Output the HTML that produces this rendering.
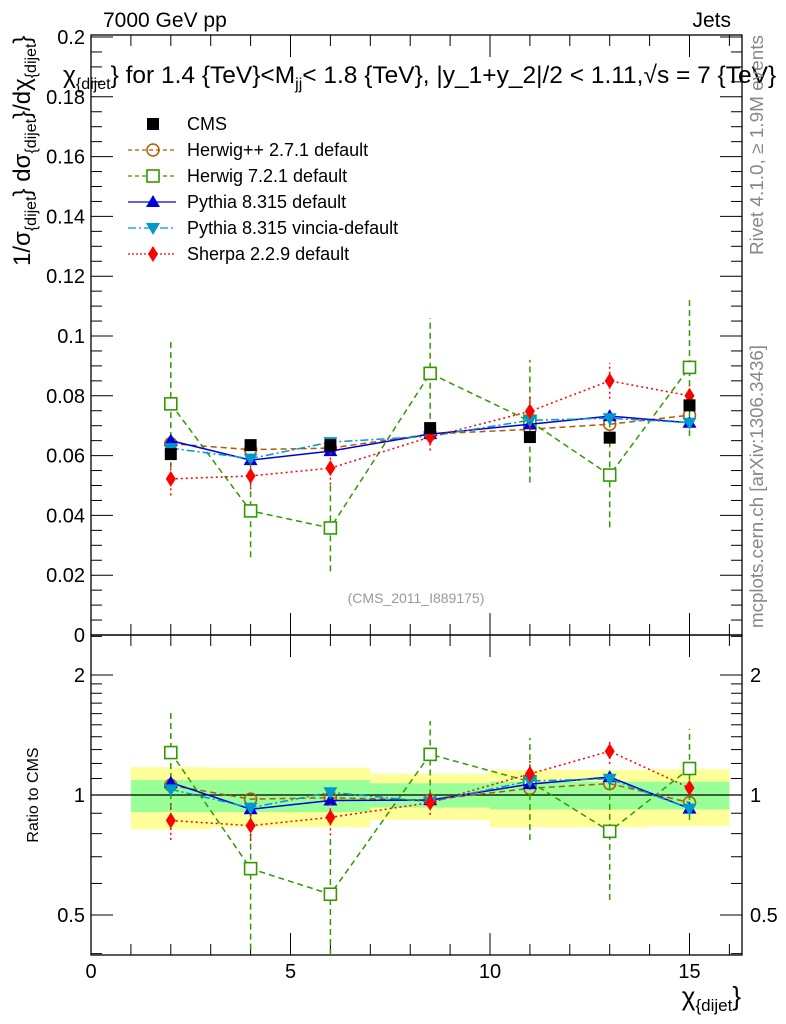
<!DOCTYPE html>
<html><head><meta charset="utf-8">
<style>
body{margin:0;background:#fff;}
svg{display:block;font-family:"Liberation Sans",sans-serif;}
</style></head>
<body>
<svg id="c" width="786" height="1024" viewBox="0 0 786 1024">
<text x="103" y="27" font-size="21">7000 GeV pp</text>
<text x="731" y="27" font-size="21" text-anchor="end">Jets</text>
<text x="63" y="83" font-size="24.5">χ<tspan font-size="16" dy="6">{dijet</tspan><tspan dy="-6" font-size="24.5">} for 1.4 {TeV}&lt;M</tspan><tspan font-size="16" dy="6">jj</tspan><tspan dy="-6" font-size="24.5">&lt; 1.8 {TeV}, |y_1+y_2|/2 &lt; 1.11,√s = 7 {TeV}</tspan></text>
<text transform="translate(30,266) rotate(-90)" font-size="24">1/σ<tspan font-size="16" dy="6">{dijet</tspan><tspan dy="-6">} dσ</tspan><tspan font-size="16" dy="6">{dijet</tspan><tspan dy="-6">}/dχ</tspan><tspan font-size="16" dy="6">{dijet</tspan><tspan dy="-6">}</tspan></text>
<text transform="translate(763,255) rotate(-90)" font-size="18" textLength="220" lengthAdjust="spacingAndGlyphs" fill="#888">Rivet 4.1.0, ≥ 1.9M events</text>
<text transform="translate(763,628) rotate(-90)" font-size="18" textLength="283" lengthAdjust="spacingAndGlyphs" fill="#888">mcplots.cern.ch [arXiv:1306.3436]</text>
<text x="416" y="603" font-size="14" fill="#999" text-anchor="middle">(CMS_2011_I889175)</text>
<text transform="translate(38,795) rotate(-90)" font-size="16" text-anchor="middle">Ratio to CMS</text>
<text x="741" y="1005" font-size="26" text-anchor="end">χ<tspan font-size="17" dy="6">{dijet</tspan><tspan dy="-6">}</tspan></text>
</svg>
<script>
const xs=[2,4,6,8.5,11,13,15];
const cms=[0.0605,0.0635,0.0635,0.0692,0.0662,0.0660,0.0768];
const herwigpp=[0.0640,0.0620,0.0625,0.0672,0.0688,0.0705,0.0735];
const herwig7=[0.0773,0.0415,0.0358,0.0875,0.0715,0.0535,0.0895];
const herwig7Err=[0.0215,0.0155,0.0145,0.0185,0.0205,0.0175,0.0230];
const pythia=[0.0650,0.0585,0.0615,0.0672,0.0705,0.0732,0.0710];
const vincia=[0.0625,0.0590,0.0645,0.0665,0.0718,0.0725,0.0710];
const sherpa=[0.0522,0.0532,0.0558,0.0662,0.0748,0.0850,0.0800];
const sherpaErr=[0.0055,0.0045,0.0055,0.0045,0.0058,0.0060,0.0035];
const bandEdges=[1,3,7,10,14,16];
const bandYellowLo=[0.82,0.83,0.866,0.83,0.836];
const bandYellowHi=[1.175,1.17,1.13,1.155,1.16];
const bandGreenLo=[0.906,0.906,0.93,0.92,0.92];
const bandGreenHi=[1.09,1.09,1.07,1.08,1.08];
const mainTicks=[0,0.02,0.04,0.06,0.08,0.1,0.12,0.14,0.16,0.18,0.2];
const mainTickLabels=["0","0.02","0.04","0.06","0.08","0.1","0.12","0.14","0.16","0.18","0.2"];
const xTicks=[0,5,10,15];
const ratioTicks=[0.5,1,2];

const svg=document.getElementById('c');
const NS='http://www.w3.org/2000/svg';
const L=91,R=742,MT=35,MB=635,RT=635,RB=955;
const X=v=>L+v*39.9;
const Y=v=>MB-v*2990;
const RY=v=>795-Math.log2(v)*120;
function mk(tag,attrs,parent){const e=document.createElementNS(NS,tag);for(const k in attrs)e.setAttribute(k,attrs[k]);(parent||svg).appendChild(e);return e;}

const bands=mk('g',{});


for(let i=0;i<bandEdges.length-1;i++){
  mk('rect',{x:X(bandEdges[i]),y:RY(bandYellowHi[i]),width:X(bandEdges[i+1])-X(bandEdges[i]),height:RY(bandYellowLo[i])-RY(bandYellowHi[i]),fill:'#ffff99'},bands);
  mk('rect',{x:X(bandEdges[i]),y:RY(bandGreenHi[i]),width:X(bandEdges[i+1])-X(bandEdges[i]),height:RY(bandGreenLo[i])-RY(bandGreenHi[i]),fill:'#99ff99'},bands);
}
mk('line',{x1:L,x2:R,y1:RY(1),y2:RY(1),stroke:'#000','stroke-width':1.2});

const f1=mk('rect',{x:L,y:MT,width:R-L,height:MB-MT,fill:'none',stroke:'#000','stroke-width':1.3});


const f2=mk('rect',{x:L,y:RT,width:R-L,height:RB-RT,fill:'none',stroke:'#000','stroke-width':1.3});



for(let v=0;v<=0.2001;v+=0.005){
  const major=Math.abs(v/0.02-Math.round(v/0.02))<1e-6;
  const len=major?22:11,y=Y(v);
  mk('line',{x1:L,x2:L+len,y1:y,y2:y,stroke:'#000'});
  mk('line',{x1:R,x2:R-len,y1:y,y2:y,stroke:'#000'});
}
mainTicks.forEach((v,i)=>{
  const t=mk('text',{x:L-6,y:Y(v)+7,'font-size':20,'text-anchor':'end'});
  t.textContent=mainTickLabels[i];
  
  
});
for(let v=0;v<=16;v++){
  const major=v%5===0,len=major?22:11,x=X(v);
  mk('line',{x1:x,x2:x,y1:MT,y2:MT+len,stroke:'#000'});
  mk('line',{x1:x,x2:x,y1:MB,y2:MB-len,stroke:'#000'});
  mk('line',{x1:x,x2:x,y1:RT,y2:RT+len,stroke:'#000'});
  mk('line',{x1:x,x2:x,y1:RB,y2:RB-len,stroke:'#000'});
}
xTicks.forEach(v=>{
  const t=mk('text',{x:X(v),y:978,'font-size':20,'text-anchor':'middle'});
  t.textContent=String(v);
  
  
});
[0.4,0.5,0.6,0.7,0.8,0.9,1,1.1,1.2,1.3,1.4,1.5,1.6,1.7,1.8,1.9,2,2.5].forEach(v=>{
  const y=RY(v);if(y<RT||y>RB)return;
  const major=ratioTicks.includes(v),len=major?22:11;
  mk('line',{x1:L,x2:L+len,y1:y,y2:y,stroke:'#000'});
  mk('line',{x1:R,x2:R-len,y1:y,y2:y,stroke:'#000'});
});
ratioTicks.forEach(v=>{
  const t=mk('text',{x:L-6,y:RY(v)+7,'font-size':20,'text-anchor':'end'});
  t.textContent=String(v);
  
  
  const t2=mk('text',{x:R+8,y:RY(v)+7,'font-size':20});
  t2.textContent=String(v);
  
  
});

function marker(g,type,x,y,color){
  if(type==='sq') mk('rect',{x:x-6,y:y-6,width:12,height:12,fill:'#000'},g);
  if(type==='circ') mk('circle',{cx:x,cy:y,r:6,fill:'none',stroke:color,'stroke-width':1.5},g);
  if(type==='osq') mk('rect',{x:x-6,y:y-6,width:12,height:12,fill:'#fff',stroke:color,'stroke-width':1.6},g);
  if(type==='up') mk('polygon',{points:`${x},${y-7} ${x-7},${y+5} ${x+7},${y+5}`,fill:color},g);
  if(type==='down') mk('polygon',{points:`${x},${y+7} ${x-7},${y-5} ${x+7},${y-5}`,fill:color},g);
  if(type==='dia') mk('polygon',{points:`${x},${y-8} ${x-5},${y} ${x},${y+8} ${x+5},${y}`,fill:color},g);
}
const series=[
 {name:'herwigpp',vals:herwigpp,color:'#b35900',dash:'6,4',m:'circ'},
 {name:'herwig7',vals:herwig7,err:herwig7Err,color:'#339900',dash:'6,4',m:'osq'},
 {name:'pythia',vals:pythia,color:'#0000dd',dash:'',m:'up'},
 {name:'vincia',vals:vincia,color:'#0099cc',dash:'8,3,2,3',m:'down'},
 {name:'sherpa',vals:sherpa,err:sherpaErr,color:'#ff0000',dash:'2,3',m:'dia'}
];
function clipR(y){return Math.max(RT,Math.min(RB,y));}
series.forEach(s=>{
  const g=mk('g',{});
  
  
  const gr=mk('g',{});
  
  
  if(s.err){
    xs.forEach((x,i)=>{
      mk('line',{x1:X(x),x2:X(x),y1:Y(s.vals[i]-s.err[i]),y2:Y(s.vals[i]+s.err[i]),stroke:s.color,'stroke-width':1.5,'stroke-dasharray':s.dash||''},g);
      const lo=(s.vals[i]-s.err[i])/cms[i],hi=(s.vals[i]+s.err[i])/cms[i];
      mk('line',{x1:X(x),x2:X(x),y1:clipR(lo>0?RY(lo):RB),y2:clipR(RY(hi)),stroke:s.color,'stroke-width':1.5,'stroke-dasharray':s.dash||''},gr);
    });
  }
  mk('polyline',{points:xs.map((x,i)=>X(x)+','+Y(s.vals[i])).join(' '),fill:'none',stroke:s.color,'stroke-width':1.5,'stroke-dasharray':s.dash},g);
  mk('polyline',{points:xs.map((x,i)=>X(x)+','+clipR(RY(s.vals[i]/cms[i]))).join(' '),fill:'none',stroke:s.color,'stroke-width':1.5,'stroke-dasharray':s.dash},gr);
  xs.forEach((x,i)=>{marker(g,s.m,X(x),Y(s.vals[i]),s.color);marker(gr,s.m,X(x),RY(s.vals[i]/cms[i]),s.color);});
});
const gc=mk('g',{});


xs.forEach((x,i)=>marker(gc,'sq',X(x),Y(cms[i]),'#000'));

const legendNames=['CMS','Herwig++ 2.7.1 default','Herwig 7.2.1 default','Pythia 8.315 default','Pythia 8.315 vincia-default','Sherpa 2.2.9 default'];
const legendStyle=[{m:'sq',c:'#000',d:null},{m:'circ',c:'#b35900',d:'4,3'},{m:'osq',c:'#339900',d:'4,3'},{m:'up',c:'#0000dd',d:''},{m:'down',c:'#0099cc',d:'8,3,2,3'},{m:'dia',c:'#ff0000',d:'2,2'}];
legendNames.forEach((n,i)=>{
  const y=124+i*26;
  const g=mk('g',{});
  
  
  const st=legendStyle[i];
  if(st.d!==null) mk('line',{x1:128,x2:176,y1:y,y2:y,stroke:st.c,'stroke-width':1.3,'stroke-dasharray':st.d},g);
  marker(g,st.m,153,y,st.c);
  const t=mk('text',{x:187,y:y+6,'font-size':18},g);
  t.textContent=n;
});
</script>
</body></html>
